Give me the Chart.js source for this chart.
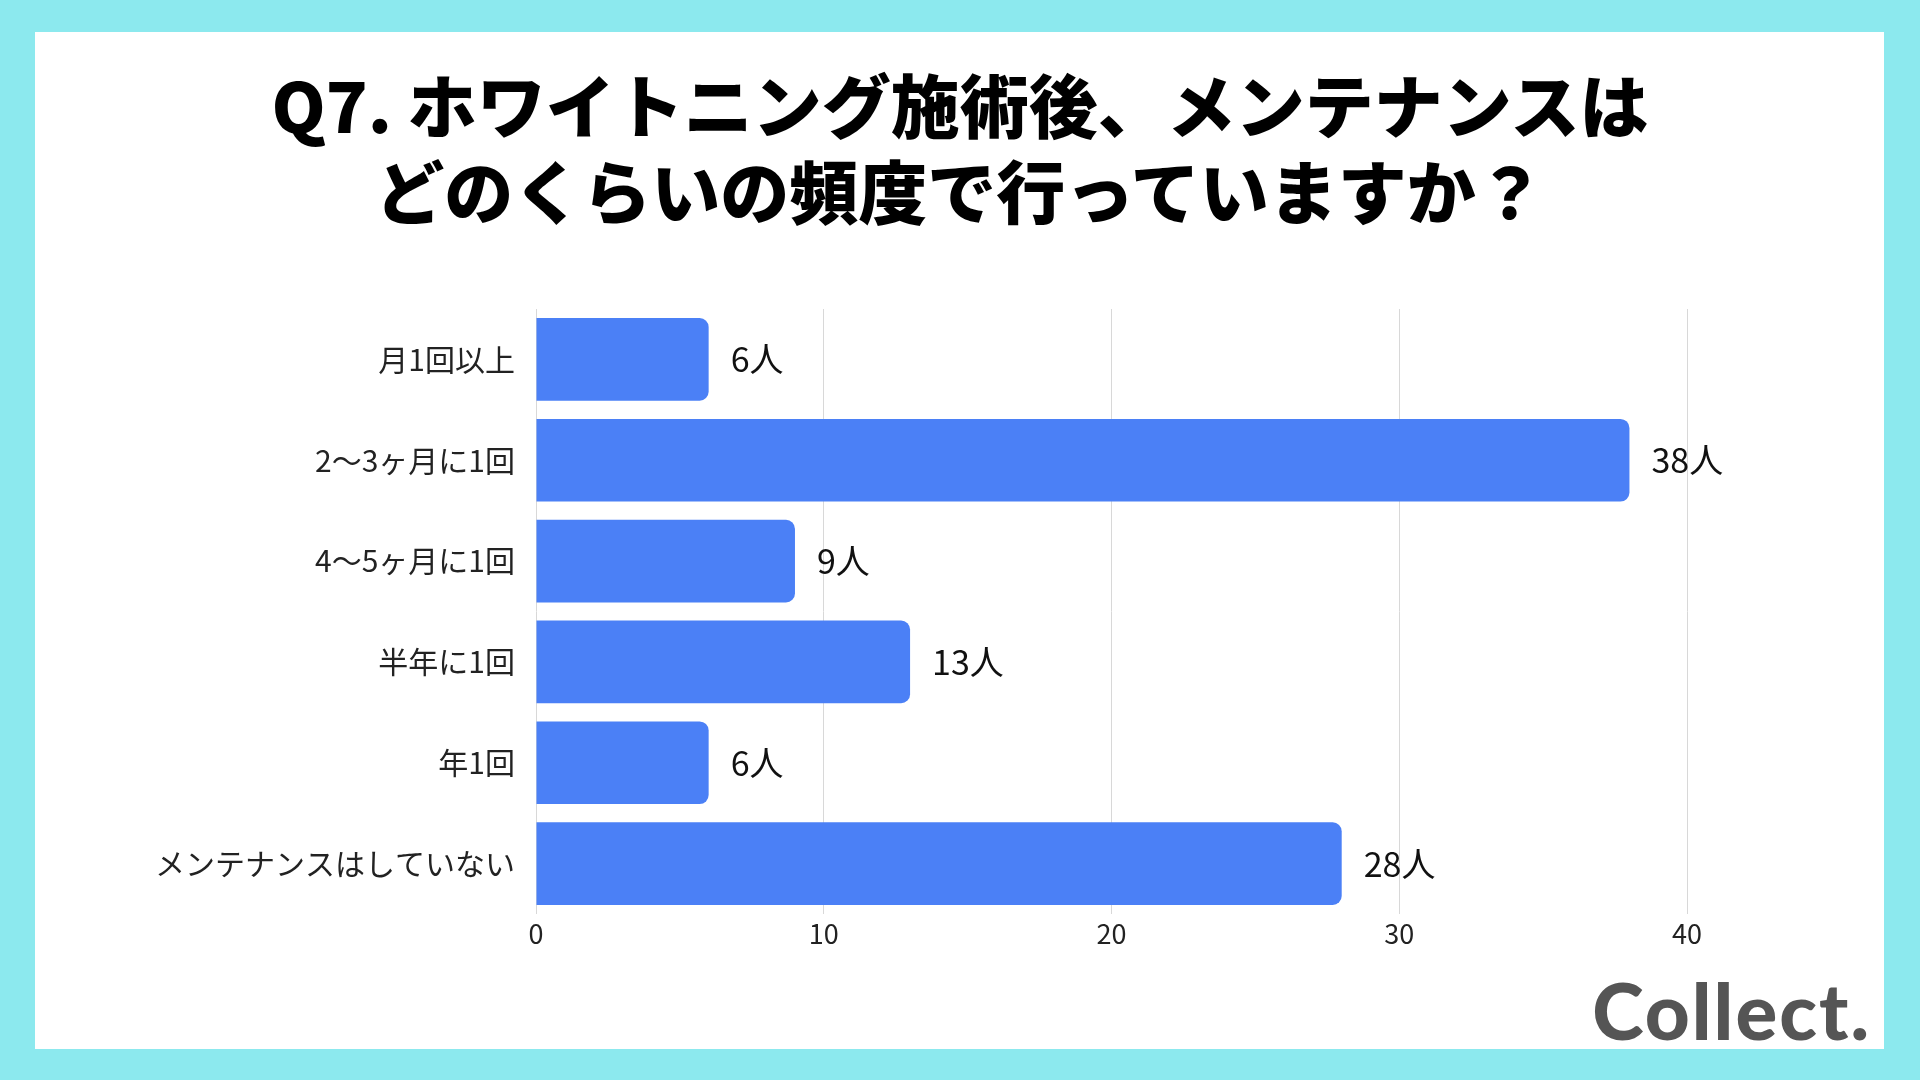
<!DOCTYPE html>
<html lang="ja">
<head>
<meta charset="utf-8">
<script src="https://cdn.jsdelivr.net/npm/chart.js@4/dist/chart.umd.min.js"></script>
<style>
  html, body { margin: 0; padding: 0; }
  body { width: 1920px; height: 1080px; background: #8ce9ee; position: relative; overflow: hidden; font-family: "Noto Sans CJK JP", sans-serif; }
  .panel { position: absolute; left: 35px; top: 32px; width: 1849px; height: 1017px; background: #fff; }
  .title { position: absolute; left: 0; top: 60px; width: 1920px; text-align: center; font-size: 69px; line-height: 86px; font-weight: 900; color: #000; }
  .chart-box { position: absolute; left: 100px; top: 270px; width: 1660px; height: 694px; }
  .logo { position: absolute; right: 49px; top: 962px; font-family: Lato, sans-serif; font-weight: 900; font-size: 78px; line-height: 96px; color: #555; letter-spacing: 2px; }
</style>
</head>
<body>
<div class="panel"></div>
<div class="title">Q7. ホワイトニング施術後、メンテナンスは<br>どのくらいの頻度で行っていますか？</div>
<div class="chart-box"><canvas id="freqChart" width="1660" height="694"></canvas></div>
<div class="logo">Collect.</div>
<script>
var categories = ["月1回以上", "2〜3ヶ月に1回", "4〜5ヶ月に1回", "半年に1回", "年1回", "メンテナンスはしていない"];
var counts = [6, 38, 9, 13, 6, 28];
var xTicks = [0, 10, 20, 30, 40];

document.addEventListener("DOMContentLoaded", function () {
  initFreqChart();
});

var valueLabels = {
  id: "valueLabels",
  afterDatasetsDraw: function (chart) {
    var ctx = chart.ctx;
    var meta = chart.getDatasetMeta(0);
    ctx.save();
    ctx.font = "34px 'Noto Sans CJK JP'";
    ctx.fillStyle = "#111";
    ctx.textAlign = "left";
    ctx.textBaseline = "middle";
    meta.data.forEach(function (bar, i) {
      ctx.fillText(counts[i] + "人", bar.x + 22, bar.y);
    });
    ctx.restore();
  }
};

function initFreqChart() {
  var el = document.getElementById("freqChart");
  if (!el || !window.Chart) return;
  new Chart(el, {
    type: "bar",
    data: {
      labels: categories,
      datasets: [{
        data: counts,
        backgroundColor: "#4b80f6",
        borderRadius: 9,
        borderSkipped: "start",
        categoryPercentage: 1,
        barPercentage: 0.82
      }]
    },
    options: {
      indexAxis: "y",
      responsive: false,
      animation: false,
      layout: { padding: { top: 17, right: 73, left: 0, bottom: 0 } },
      plugins: { legend: { display: false }, tooltip: { enabled: false } },
      scales: {
        x: {
          min: 0,
          max: 40,
          afterBuildTicks: function (scale) {
            scale.ticks = xTicks.map(function (v) { return { value: v }; });
          },
          afterFit: function (scale) { scale.height = 50; },
          grid: { color: "#d8d8d8", lineWidth: 1, drawTicks: false },
          border: { display: false },
          ticks: { color: "#222", padding: 4, font: { family: "Noto Sans CJK JP", size: 27 } }
        },
        y: {
          afterFit: function (scale) { scale.width = 436; },
          grid: { display: false, drawTicks: false },
          border: { display: false },
          ticks: { color: "#222", padding: 21, font: { family: "Noto Sans CJK JP", size: 30 } }
        }
      }
    },
    plugins: [valueLabels]
  });
}
</script>
</body>
</html>
